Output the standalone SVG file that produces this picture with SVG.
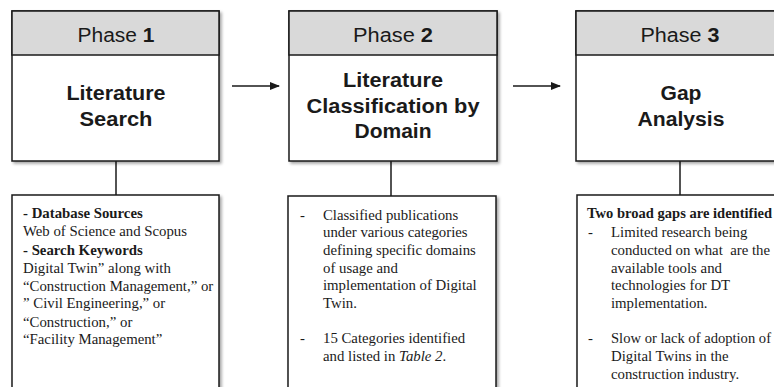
<svg xmlns="http://www.w3.org/2000/svg" width="774" height="387" viewBox="0 0 774 387">
<style>
.box{fill:#fff;stroke:#1a1a1a;stroke-width:1.5}
.hdr{fill:#d9d9d9;stroke:#1a1a1a;stroke-width:1.5}
.ln{stroke:#1a1a1a;stroke-width:1.5;fill:none}
.ph{font-family:"Liberation Sans",Arial,sans-serif;font-size:20px;fill:#1a1a1a;text-anchor:middle}
.tt{font-family:"Liberation Sans",Arial,sans-serif;font-size:20px;font-weight:bold;fill:#1a1a1a;text-anchor:middle}
.sr{font-family:"Liberation Serif","Times New Roman",serif;font-size:14.8px;fill:#1a1a1a}
.b{font-weight:bold}
</style>
<defs>
<filter id="sh" x="-10%" y="-10%" width="130%" height="130%">
<feDropShadow dx="2" dy="2" stdDeviation="1.5" flood-color="#000" flood-opacity="0.35"/>
</filter>
<marker id="ah" markerWidth="10" markerHeight="8" refX="9" refY="4" orient="auto" markerUnits="userSpaceOnUse">
<path d="M0,0 L10,4 L0,8 Z" fill="#1a1a1a"/>
</marker>
</defs>
<g id="connectors">
<line class="ln" x1="232" y1="86" x2="279" y2="86" marker-end="url(#ah)"/>
<line class="ln" x1="513" y1="86" x2="560" y2="86" marker-end="url(#ah)"/>
<line class="ln" x1="116" y1="161" x2="116" y2="195"/>
<line class="ln" x1="391" y1="161" x2="391" y2="196"/>
<line class="ln" x1="680" y1="161" x2="680" y2="195"/>
</g>
<g id="phase1">
<g filter="url(#sh)">
<rect class="box" x="12" y="11" width="207" height="150"/>
</g>
<rect class="hdr" x="12" y="11" width="207" height="44"/>
<text class="ph" x="116" y="42" textLength="77" lengthAdjust="spacingAndGlyphs">Phase <tspan class="b">1</tspan></text>
<text class="tt" x="116" y="100" textLength="99" lengthAdjust="spacingAndGlyphs">Literature</text>
<text class="tt" x="116" y="126" textLength="73" lengthAdjust="spacingAndGlyphs">Search</text>
</g>
<g id="phase2">
<g filter="url(#sh)">
<rect class="box" x="289" y="11" width="208" height="150"/>
</g>
<rect class="hdr" x="289" y="11" width="208" height="44"/>
<text class="ph" x="393" y="42" textLength="80" lengthAdjust="spacingAndGlyphs">Phase <tspan class="b">2</tspan></text>
<text class="tt" x="393" y="87" textLength="100" lengthAdjust="spacingAndGlyphs">Literature</text>
<text class="tt" x="393" y="113" textLength="173" lengthAdjust="spacingAndGlyphs">Classification by</text>
<text class="tt" x="393" y="138" textLength="77" lengthAdjust="spacingAndGlyphs">Domain</text>
</g>
<g id="phase3">
<g filter="url(#sh)">
<rect class="box" x="576" y="11" width="208" height="150"/>
</g>
<rect class="hdr" x="576" y="11" width="208" height="44"/>
<text class="ph" x="680" y="42" textLength="79" lengthAdjust="spacingAndGlyphs">Phase <tspan class="b">3</tspan></text>
<text class="tt" x="681" y="100" textLength="41" lengthAdjust="spacingAndGlyphs">Gap</text>
<text class="tt" x="681" y="126" textLength="87" lengthAdjust="spacingAndGlyphs">Analysis</text>
</g>
<g id="detail1">
<rect class="box" x="12" y="195" width="207" height="200" filter="url(#sh)"/>
<text class="sr" x="23" y="218"><tspan class="b">- Database Sources</tspan></text>
<text class="sr" x="23" y="236">Web of Science and Scopus</text>
<text class="sr" x="23" y="255"><tspan class="b">- Search Keywords</tspan></text>
<text class="sr" x="23" y="273">Digital Twin” along with</text>
<text class="sr" x="23" y="291">“Construction Management,” or</text>
<text class="sr" x="23" y="308">” Civil Engineering,” or</text>
<text class="sr" x="23" y="327">“Construction,” or</text>
<text class="sr" x="23" y="344">“Facility Management”</text>
</g>
<g id="detail2">
<rect class="box" x="288" y="196" width="208" height="200" filter="url(#sh)"/>
<text class="sr" x="300" y="220">-</text>
<text class="sr" x="323" y="220">Classified publications</text>
<text class="sr" x="323" y="237">under various categories</text>
<text class="sr" x="323" y="255">defining specific domains</text>
<text class="sr" x="323" y="273">of usage and</text>
<text class="sr" x="323" y="290">implementation of Digital</text>
<text class="sr" x="323" y="308">Twin.</text>
<text class="sr" x="300" y="343">-</text>
<text class="sr" x="323" y="343">15 Categories identified</text>
<text class="sr" x="323" y="361">and listed in <tspan font-style="italic">Table 2</tspan>.</text>
</g>
<g id="detail3">
<rect class="box" x="577" y="195" width="208" height="200" filter="url(#sh)"/>
<text class="sr b" x="587" y="218" textLength="185" lengthAdjust="spacingAndGlyphs">Two broad gaps are identified</text>
<text class="sr" x="588" y="237">-</text>
<text class="sr" x="611" y="237">Limited research being</text>
<text class="sr" x="611" y="255" xml:space="preserve">conducted on what  are the</text>
<text class="sr" x="611" y="273">available tools and</text>
<text class="sr" x="611" y="290">technologies for DT</text>
<text class="sr" x="611" y="308">implementation.</text>
<text class="sr" x="588" y="343">-</text>
<text class="sr" x="611" y="343" textLength="160" lengthAdjust="spacingAndGlyphs">Slow or lack of adoption of</text>
<text class="sr" x="611" y="361">Digital Twins in the</text>
<text class="sr" x="611" y="379">construction industry.</text>
</g>
</svg>
